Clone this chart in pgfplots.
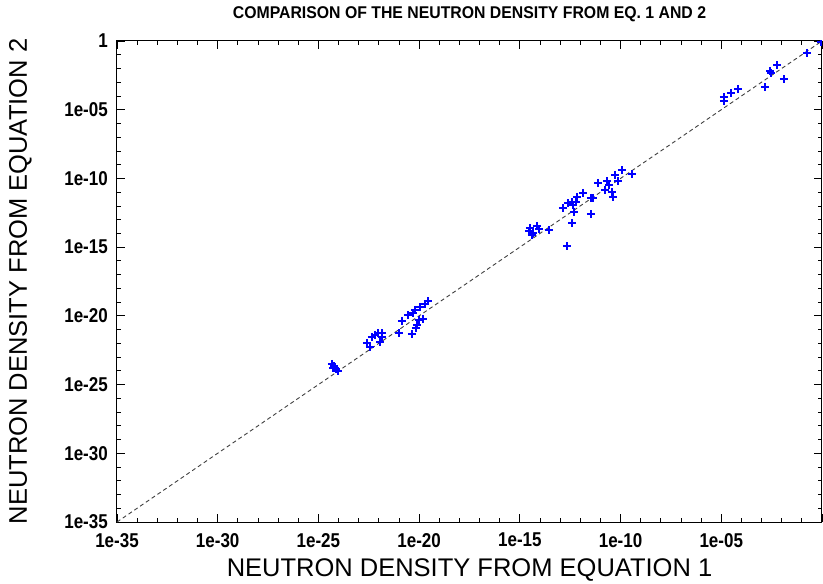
\documentclass[border=0pt]{standalone}
\usepackage{fontspec}
\setmainfont{Liberation Sans}
\newfontfamily\narrowsans[FakeStretch=0.85]{Liberation Sans}
\newfontfamily\titlesans[FakeStretch=0.93]{Liberation Sans}
\usepackage{pgfplots}
\pgfplotsset{compat=1.18}

\newcommand\tickfont{\narrowsans\bfseries\fontsize{20pt}{20pt}\selectfont}
\newcommand\titlefont{\titlesans\bfseries\fontsize{17pt}{17pt}\selectfont}
\newcommand\labelfont{\fontsize{25.5pt}{25.5pt}\selectfont}

\begin{document}
\begin{tikzpicture}
\useasboundingbox (0,0) rectangle (823pt,584pt);
\begin{axis}[
  at={(117pt,62pt)}, anchor=south west,
  scale only axis, width=705pt, height=481pt,
  xmode=log, ymode=log,
  xmin=1e-35, xmax=1, ymin=1e-35, ymax=1,
  axis line style={black, line width=1pt},
  tick align=inside,
  major tick length=8pt, minor tick length=4pt,
  every tick/.style={black, line width=0.8pt},
  xtick={1e-35,1e-30,1e-25,1e-20,1e-15,1e-10,1e-05,1},
  xticklabels={1e-35,1e-30,1e-25,1e-20,1e-15,1e-10,1e-05,},
  ytick={1e-35,1e-30,1e-25,1e-20,1e-15,1e-10,1e-05,1},
  yticklabels={1e-35,1e-30,1e-25,1e-20,1e-15,1e-10,1e-05,1},
  minor xtick={1e-34,1e-33,1e-32,1e-31,1e-29,1e-28,1e-27,1e-26,1e-24,1e-23,1e-22,1e-21,1e-19,1e-18,1e-17,1e-16,1e-14,1e-13,1e-12,1e-11,1e-9,1e-8,1e-7,1e-6,1e-4,1e-3,1e-2,1e-1},
  minor ytick={1e-34,1e-33,1e-32,1e-31,1e-29,1e-28,1e-27,1e-26,1e-24,1e-23,1e-22,1e-21,1e-19,1e-18,1e-17,1e-16,1e-14,1e-13,1e-12,1e-11,1e-9,1e-8,1e-7,1e-6,1e-4,1e-3,1e-2,1e-1},
  xticklabel style={font=\tickfont, inner sep=0pt, anchor=north, yshift=-11pt},
  yticklabel style={font=\tickfont, inner sep=0pt, anchor=east, xshift=-9pt},
  title={COMPARISON OF THE NEUTRON DENSITY FROM EQ. 1 AND 2},
  title style={font=\titlefont, at={(axis description cs:0.5,1.0353)}, anchor=base, inner sep=0pt},
  xlabel={NEUTRON DENSITY FROM EQUATION 1},
  ylabel={NEUTRON DENSITY FROM EQUATION 2},
  every axis x label/.style={font=\labelfont, at={(axis description cs:0.5,-0.1123)}, anchor=base, inner sep=0pt},
  every axis y label/.style={font=\labelfont, at={(axis description cs:-0.1277,0.5)}, rotate=90, anchor=base, inner sep=0pt},
  clip marker paths=true,
]
% one-to-one reference line
\addplot[black!75, line width=0.9pt, dash pattern=on 4pt off 3pt] coordinates {(1e-35,1e-35) (1,1)};

% computed densities: equation 1 (x) against equation 2 (y)
\addplot[only marks, blue, mark=+, mark size=4pt, line width=1.4pt] table {
x y
4.68e-25 3.16e-24
5.89e-25 2.24e-24
7.41e-25 1.35e-24
9.33e-25 9.77e-25
5.25e-25 1.62e-24
2.57e-23 1.07e-22
4.57e-23 2.88e-22
6.46e-23 4.07e-22
9.12e-23 5.62e-22
1.45e-22 5.62e-22
1.45e-22 2.88e-22
3.63e-23 5.37e-23
1.15e-22 1.26e-22
1.00e-21 5.62e-22
1.41e-21 4.27e-21
2.82e-21 1.15e-20
4.90e-21 1.62e-20
6.17e-21 2.69e-20
1.10e-20 4.37e-20
1.95e-20 7.24e-20
2.75e-20 1.20e-19
4.37e-21 4.79e-22
7.76e-21 2.14e-21
9.77e-21 5.01e-21
1.55e-20 5.89e-21
6.92e-21 1.32e-21
2.82e-15 1.48e-14
3.98e-15 7.59e-15
4.47e-15 1.07e-14
7.08e-15 3.47e-14
8.91e-15 2.09e-14
3.16e-15 2.45e-14
2.82e-14 1.78e-14
2.19e-13 1.20e-15
1.38e-13 7.08e-13
2.45e-13 1.62e-12
3.89e-13 1.91e-12
4.37e-13 1.17e-12
6.92e-13 4.47e-12
6.17e-13 1.91e-12
4.90e-13 3.63e-13
3.89e-13 5.75e-14
1.38e-12 8.71e-12
3.39e-12 3.80e-12
4.27e-12 3.80e-12
3.39e-12 2.57e-13
7.59e-12 4.68e-11
1.70e-11 1.45e-11
2.14e-11 6.46e-11
2.69e-11 3.31e-11
3.72e-11 1.02e-11
4.17e-11 4.47e-12
5.25e-11 1.78e-10
7.41e-11 6.46e-11
1.17e-10 4.07e-10
3.72e-10 2.09e-10
1.35e-05 8.51e-05
1.35e-05 4.27e-05
3.02e-05 1.66e-04
6.76e-05 3.24e-04
1.48e-03 4.47e-04
2.63e-03 6.61e-03
2.95e-03 4.68e-03
5.89e-03 1.78e-02
1.29e-02 1.70e-03
1.82e-01 1.35e-01
8.91e-01 8.51e-01
};
\end{axis}
\end{tikzpicture}
\end{document}
